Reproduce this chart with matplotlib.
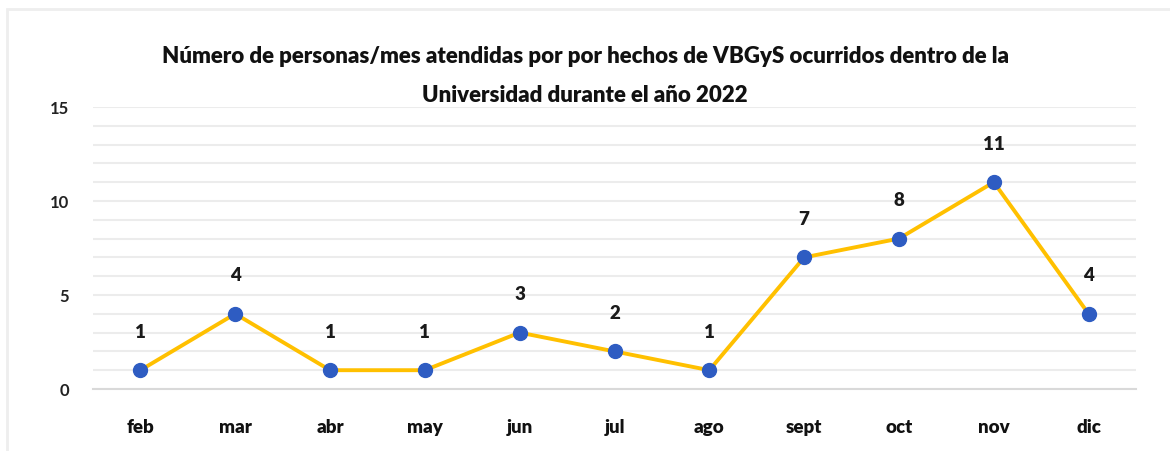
import matplotlib
matplotlib.use("Agg")
import matplotlib.pyplot as plt
from matplotlib.patches import Rectangle

months = ["feb", "mar", "abr", "may", "jun", "jul", "ago", "sept", "oct", "nov", "dic"]
values = [1, 4, 1, 1, 3, 2, 1, 7, 8, 11, 4]
yticks = [0, 5, 10, 15]
title = ("Número de personas/mes atendidas por por hechos de VBGyS ocurridos dentro de la\n"
         "Universidad durante el año 2022")

plt.rcParams['font.family'] = ['Lato', 'DejaVu Sans']

fig = plt.figure(figsize=(11.7, 4.52), dpi=100)
W, H = 1170, 452
# chart border
fig.patches.append(Rectangle((7 / W, -0.1), 1.2, 1 - 10 / H + 0.1, transform=fig.transFigure,
                             fill=False, edgecolor='#eeeeee', linewidth=2.0))

ax = fig.add_axes([93 / W, 62 / H, (1136 - 93) / W, (344 - 62) / H])
x = list(range(len(months)))
ax.plot(x, values, color='#FFC000', linewidth=2.8, zorder=3)
ax.plot(x, values, linestyle='none', marker='o', markersize=10,
        markerfacecolor='#2E5CC2', markeredgecolor='#2E5CC2', zorder=4)
for xi, v in zip(x, values):
    ax.annotate(str(v), (xi, v), xytext=(0, 22), textcoords='offset points',
                ha='center', va='bottom', fontsize=13.5, fontweight='heavy', color='#1a1a1a')

ax.set_xlim(-0.5, len(months) - 0.5)
ax.set_ylim(0, 15)
ax.set_yticks(yticks)
ax.set_yticks(range(0, 16), minor=True)
ax.set_xticks(x)
ax.set_xticklabels(months, fontsize=13.5, fontweight='heavy', color='#111111')
ax.tick_params(axis='x', length=0, pad=21)
ax.tick_params(axis='y', which='both', length=0, pad=17, labelsize=12)
for lab in ax.get_yticklabels():
    lab.set_fontweight('bold')
    lab.set_color('#222222')
ax.grid(axis='y', which='both', color='#ececec', linewidth=1.5, zorder=0)
for s in ['top', 'right', 'left']:
    ax.spines[s].set_visible(False)
ax.spines['bottom'].set_color('#d9d9d9')
ax.spines['bottom'].set_linewidth(1.5)

fig.text(0.5, 1 - 76 / H, title, ha='center', va='center', fontsize=16,
         fontweight='heavy', linespacing=2.1, color='#111111')

fig.savefig("out.png", dpi=100)
